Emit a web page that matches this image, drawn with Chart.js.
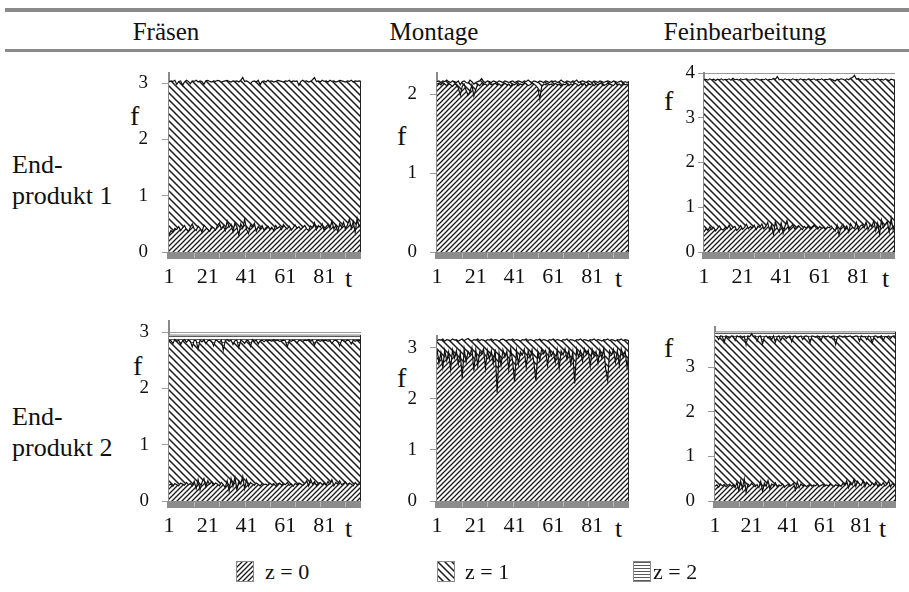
<!DOCTYPE html>
<html>
<head>
<meta charset="utf-8">
<script src="https://cdn.jsdelivr.net/npm/chart.js@4.4.1/dist/chart.umd.min.js"></script>
<style>
  html, body { margin: 0; padding: 0; background: #fff; }
  body { position: relative; width: 909px; height: 592px; overflow: hidden; font-family: "Liberation Serif", "Times New Roman", serif; color: #111; }
  .txt { position: absolute; white-space: nowrap; line-height: 1; }
  .rule { position: absolute; left: 5px; right: 0; background: #8a8a8a; }
  .panel { position: absolute; }
  .swatch { position: absolute; border: 1px solid #8a8a8a; }
</style>
</head>
<body>
<div class="rule" style="top:8px;height:4px"></div>
<div class="rule" style="top:49px;height:3px"></div>

<div class="txt" style="left:166px;top:19px;font-size:25px;transform:translateX(-50%)">Fräsen</div>
<div class="txt" style="left:434px;top:19px;font-size:25px;transform:translateX(-50%)">Montage</div>
<div class="txt" style="left:745px;top:19px;font-size:25px;transform:translateX(-50%)">Feinbearbeitung</div>

<div class="txt" style="left:12px;top:152px;font-size:26px">End-</div>
<div class="txt" style="left:12px;top:183px;font-size:26px">produkt 1</div>
<div class="txt" style="left:12px;top:404px;font-size:26px">End-</div>
<div class="txt" style="left:12px;top:435px;font-size:26px">produkt 2</div>

<div class="txt" style="left:130px;top:102px;font-size:28px">f</div>
<div class="txt" style="left:397px;top:122px;font-size:28px">f</div>
<div class="txt" style="left:664px;top:87px;font-size:28px">f</div>
<div class="txt" style="left:133px;top:352px;font-size:28px">f</div>
<div class="txt" style="left:397px;top:364px;font-size:28px">f</div>
<div class="txt" style="left:664px;top:334px;font-size:28px">f</div>

<div class="txt" style="left:345px;top:266px;font-size:26px">t</div>
<div class="txt" style="left:615px;top:266px;font-size:26px">t</div>
<div class="txt" style="left:882px;top:266px;font-size:26px">t</div>
<div class="txt" style="left:345px;top:516px;font-size:26px">t</div>
<div class="txt" style="left:615px;top:516px;font-size:26px">t</div>
<div class="txt" style="left:879px;top:516px;font-size:26px">t</div>

<canvas id="sw0" class="swatch" width="16" height="19" style="left:236px;top:561px"></canvas>
<canvas id="sw1" class="swatch" width="16" height="19" style="left:437px;top:561px"></canvas>
<canvas id="sw2" class="swatch" width="16" height="19" style="left:633px;top:561px"></canvas>
<div class="txt" style="left:265px;top:561px;font-size:22px">z = 0</div>
<div class="txt" style="left:465px;top:561px;font-size:22px">z = 1</div>
<div class="txt" style="left:653px;top:561px;font-size:22px">z = 2</div>

<script>
// Zeitachse t = 1..100
const tLabels = Array.from({ length: 100 }, (_, i) => i + 1);
const tTicks = [1, 21, 41, 61, 81];
const yTicks2 = [0, 1, 2];
const yTicks3 = [0, 1, 2, 3];
const yTicks4 = [0, 1, 2, 3, 4];
const z2T = [1, 100];

// Fräsen, Endprodukt 1 (Obergrenzen der Flächen)
const fraesen1_z0 = [
  0.30,0.38,0.35,0.42,0.40,0.45,0.38,0.43,0.47,0.40,
  0.36,0.44,0.50,0.41,0.38,0.46,0.42,0.35,0.48,0.44,
  0.40,0.37,0.45,0.43,0.39,0.47,0.52,0.41,0.46,0.38,
  0.55,0.44,0.49,0.36,0.52,0.45,0.30,0.50,0.42,0.58,
  0.40,0.33,0.48,0.44,0.51,0.37,0.45,0.41,0.47,0.39,
  0.43,0.46,0.40,0.44,0.38,0.47,0.42,0.45,0.40,0.49,
  0.44,0.41,0.46,0.39,0.43,0.48,0.42,0.45,0.40,0.44,
  0.47,0.41,0.38,0.46,0.43,0.52,0.40,0.47,0.44,0.50,
  0.38,0.45,0.49,0.42,0.55,0.41,0.47,0.36,0.50,0.44,
  0.53,0.40,0.48,0.58,0.42,0.54,0.35,0.60,0.45,0.52];
const fraesen1_z1 = [
  3.02,3.04,3.03,3.05,2.98,3.03,3.04,2.96,3.02,3.05,
  3.03,2.99,3.04,3.03,3.05,3.02,3.04,3.03,2.98,3.04,
  3.05,3.03,3.02,3.04,3.03,3.05,3.04,3.02,3.03,3.04,
  3.05,3.03,3.02,3.04,3.03,3.04,3.02,3.05,3.10,3.03,
  3.04,3.02,2.99,3.03,3.04,3.02,3.05,2.97,3.03,3.04,
  3.02,3.05,3.03,3.04,3.02,3.03,3.05,3.04,3.03,3.02,
  3.04,3.03,3.05,3.02,3.04,3.03,3.04,2.96,3.03,3.05,
  3.03,3.04,3.02,3.03,3.06,3.10,3.03,3.04,3.02,3.05,
  3.03,3.04,3.02,3.05,3.03,3.04,3.02,3.03,3.05,3.04,
  3.03,3.02,3.04,3.03,3.05,3.02,3.04,3.03,3.04,3.03];

// Montage, Endprodukt 1
const montage1_z0 = [
  2.13,2.14,2.12,2.15,2.13,2.11,2.14,2.12,2.10,2.13,
  2.12,2.08,1.99,2.10,2.13,2.05,1.99,2.03,2.12,1.98,
  2.06,2.13,2.11,2.14,2.12,2.13,2.11,2.14,2.12,2.13,
  2.14,2.12,2.13,2.11,2.13,2.14,2.12,2.13,2.10,2.13,
  2.12,2.14,2.11,2.13,2.12,2.14,2.13,2.11,2.12,2.14,
  2.13,2.11,2.08,1.94,2.10,2.13,2.12,2.14,2.12,2.13,
  2.11,2.14,2.12,2.13,2.10,2.13,2.12,2.14,2.11,2.13,
  2.12,2.14,2.13,2.11,2.13,2.12,2.14,2.10,2.13,2.12,
  2.14,2.11,2.13,2.12,2.14,2.13,2.11,2.12,2.14,2.13,
  2.12,2.11,2.14,2.12,2.13,2.11,2.14,2.12,2.13,2.12];
const montage1_z1 = [
  2.16,2.17,2.15,2.17,2.16,2.18,2.16,2.15,2.17,2.16,
  2.15,2.17,2.12,2.16,2.17,2.15,2.14,2.18,2.16,2.13,
  2.15,2.16,2.17,2.20,2.16,2.15,2.17,2.16,2.15,2.17,
  2.16,2.15,2.17,2.16,2.15,2.17,2.16,2.15,2.16,2.17,
  2.15,2.16,2.17,2.16,2.15,2.17,2.16,2.18,2.16,2.15,
  2.17,2.16,2.15,2.17,2.16,2.15,2.17,2.16,2.15,2.17,
  2.16,2.17,2.15,2.16,2.18,2.16,2.15,2.17,2.16,2.15,
  2.17,2.16,2.18,2.15,2.16,2.17,2.16,2.15,2.17,2.16,
  2.15,2.17,2.16,2.15,2.17,2.16,2.15,2.16,2.17,2.16,
  2.15,2.17,2.16,2.15,2.16,2.17,2.15,2.16,2.15,2.16];

// Feinbearbeitung, Endprodukt 1
const fein1_z0 = [
  0.45,0.52,0.48,0.56,0.50,0.55,0.47,0.53,0.58,0.51,
  0.49,0.55,0.52,0.60,0.50,0.54,0.57,0.48,0.53,0.59,
  0.51,0.55,0.62,0.52,0.57,0.54,0.60,0.50,0.58,0.55,
  0.63,0.52,0.57,0.66,0.48,0.60,0.40,0.68,0.53,0.45,
  0.65,0.42,0.58,0.70,0.50,0.56,0.61,0.52,0.55,0.59,
  0.54,0.50,0.57,0.53,0.58,0.52,0.56,0.60,0.55,0.51,
  0.57,0.53,0.55,0.50,0.56,0.54,0.58,0.52,0.47,0.60,
  0.38,0.56,0.62,0.50,0.58,0.45,0.63,0.55,0.52,0.66,
  0.49,0.58,0.61,0.54,0.67,0.50,0.60,0.56,0.70,0.48,
  0.64,0.40,0.72,0.55,0.62,0.68,0.45,0.75,0.50,0.62];
const fein1_z1 = [
  3.85,3.86,3.84,3.87,3.85,3.86,3.83,3.86,3.85,3.87,
  3.84,3.86,3.85,3.87,3.84,3.88,3.85,3.86,3.84,3.87,
  3.85,3.86,3.87,3.85,3.84,3.86,3.85,3.87,3.86,3.84,
  3.86,3.85,3.87,3.84,3.86,3.85,3.88,3.86,3.92,3.85,
  3.86,3.84,3.87,3.85,3.86,3.84,3.87,3.85,3.86,3.84,
  3.87,3.85,3.86,3.84,3.87,3.86,3.85,3.87,3.84,3.86,
  3.85,3.87,3.84,3.86,3.85,3.87,3.86,3.84,3.82,3.86,
  3.85,3.87,3.86,3.84,3.87,3.85,3.88,3.90,3.95,3.86,
  3.88,3.85,3.87,3.84,3.86,3.85,3.87,3.84,3.86,3.85,
  3.87,3.85,3.86,3.84,3.87,3.85,3.83,3.86,3.85,3.84];

// Fräsen, Endprodukt 2
const fraesen2_z0 = [
  0.28,0.30,0.26,0.31,0.29,0.27,0.32,0.30,0.28,0.33,
  0.29,0.31,0.27,0.35,0.22,0.38,0.20,0.33,0.40,0.25,
  0.36,0.30,0.34,0.28,0.32,0.30,0.27,0.33,0.29,0.24,
  0.36,0.18,0.40,0.26,0.42,0.20,0.35,0.30,0.44,0.22,
  0.38,0.26,0.33,0.30,0.28,0.32,0.30,0.27,0.31,0.29,
  0.30,0.28,0.32,0.29,0.31,0.27,0.30,0.32,0.28,0.31,
  0.29,0.33,0.28,0.30,0.26,0.31,0.29,0.32,0.30,0.28,
  0.31,0.36,0.27,0.39,0.30,0.34,0.28,0.31,0.33,0.29,
  0.32,0.28,0.35,0.30,0.38,0.27,0.33,0.30,0.36,0.29,
  0.31,0.34,0.28,0.32,0.30,0.27,0.33,0.29,0.31,0.30];
const fraesen2_z1 = [
  2.86,2.85,2.80,2.87,2.84,2.86,2.78,2.85,2.87,2.82,
  2.86,2.84,2.74,2.86,2.85,2.70,2.86,2.83,2.87,2.80,
  2.85,2.86,2.84,2.76,2.86,2.85,2.82,2.86,2.68,2.85,
  2.87,2.84,2.86,2.78,2.85,2.86,2.73,2.86,2.84,2.80,
  2.86,2.85,2.75,2.87,2.84,2.86,2.79,2.85,2.86,2.83,
  2.86,2.85,2.86,2.84,2.87,2.85,2.86,2.84,2.85,2.86,
  2.85,2.74,2.86,2.84,2.86,2.85,2.81,2.86,2.85,2.84,
  2.86,2.85,2.87,2.84,2.86,2.77,2.85,2.86,2.84,2.86,
  2.85,2.86,2.84,2.86,2.80,2.85,2.86,2.84,2.76,2.86,
  2.85,2.84,2.86,2.85,2.79,2.86,2.84,2.86,2.85,2.86];
const fraesen2_z2 = [2.95, 2.95];

// Montage, Endprodukt 2
const montage2_z0 = [
  2.98,2.70,2.90,2.62,2.95,2.75,2.92,2.58,2.96,2.80,
  2.94,2.68,2.90,2.40,2.97,2.72,2.93,2.85,3.00,2.55,
  2.96,2.65,2.92,2.88,2.98,2.60,2.95,2.78,2.94,2.70,
  2.97,2.12,2.90,2.66,2.96,2.82,2.93,2.58,2.98,2.74,
  2.33,2.95,2.68,2.92,2.86,2.97,2.62,2.94,2.80,2.96,
  2.70,2.35,2.93,2.76,2.98,2.88,2.95,2.66,2.97,2.84,
  2.92,2.72,2.96,2.60,2.94,2.86,2.98,2.78,2.95,2.68,
  2.93,2.30,2.97,2.82,2.94,2.74,2.98,2.88,2.95,2.64,
  2.97,2.84,2.93,2.70,2.96,2.80,2.98,2.58,2.36,2.94,
  2.86,2.97,2.72,2.95,2.66,2.98,2.82,2.94,2.62,2.90];
const montage2_z1 = [
  3.14,3.16,3.15,3.17,3.13,3.16,3.15,3.14,3.17,3.15,
  3.16,3.13,3.15,3.17,3.14,3.16,3.18,3.15,3.13,3.16,
  3.15,3.17,3.14,3.16,3.15,3.13,3.16,3.15,3.17,3.14,
  3.16,3.15,3.13,3.16,3.17,3.15,3.14,3.16,3.15,3.17,
  3.14,3.16,3.15,3.13,3.16,3.15,3.17,3.14,3.16,3.15,
  3.13,3.16,3.15,3.17,3.14,3.16,3.15,3.13,3.16,3.15,
  3.17,3.14,3.16,3.15,3.13,3.16,3.15,3.17,3.14,3.16,
  3.15,3.13,3.16,3.15,3.17,3.14,3.16,3.15,3.13,3.16,
  3.15,3.17,3.14,3.16,3.15,3.13,3.16,3.15,3.17,3.14,
  3.16,3.15,3.13,3.16,3.15,3.17,3.14,3.16,3.15,3.14];

// Feinbearbeitung, Endprodukt 2
const fein2_z0 = [
  0.33,0.36,0.31,0.38,0.34,0.37,0.32,0.35,0.38,0.33,
  0.36,0.30,0.42,0.24,0.45,0.28,0.50,0.20,0.38,0.34,
  0.40,0.35,0.32,0.37,0.30,0.44,0.22,0.40,0.33,0.46,
  0.27,0.38,0.35,0.41,0.32,0.36,0.34,0.38,0.31,0.35,
  0.37,0.33,0.36,0.40,0.25,0.43,0.30,0.38,0.34,0.36,
  0.32,0.35,0.37,0.33,0.36,0.34,0.38,0.32,0.35,0.37,
  0.33,0.36,0.34,0.38,0.35,0.32,0.37,0.34,0.36,0.33,
  0.40,0.35,0.45,0.30,0.42,0.36,0.48,0.33,0.44,0.38,
  0.35,0.46,0.32,0.42,0.37,0.34,0.40,0.36,0.43,0.33,
  0.38,0.35,0.41,0.34,0.37,0.45,0.32,0.39,0.36,0.38];
const fein2_z1 = [
  3.70,3.68,3.62,3.70,3.69,3.55,3.70,3.68,3.65,3.70,
  3.69,3.60,3.70,3.68,3.70,3.66,3.69,3.50,3.70,3.68,
  3.75,3.69,3.70,3.58,3.69,3.70,3.52,3.68,3.70,3.65,
  3.69,3.62,3.70,3.56,3.68,3.70,3.60,3.69,3.70,3.64,
  3.68,3.70,3.57,3.69,3.70,3.66,3.68,3.70,3.62,3.69,
  3.70,3.68,3.55,3.70,3.69,3.67,3.70,3.68,3.60,3.70,
  3.69,3.68,3.70,3.66,3.69,3.70,3.51,3.68,3.70,3.69,
  3.67,3.70,3.68,3.69,3.70,3.66,3.68,3.70,3.69,3.58,
  3.70,3.68,3.69,3.62,3.70,3.68,3.54,3.69,3.70,3.66,
  3.68,3.70,3.59,3.69,3.68,3.70,3.64,3.69,3.70,3.68];
const fein2_z2 = [3.79, 3.79];

// --- Schraffuren ---
function makeHatch(kind) {
  const size = kind === 'fwd' ? 5 : kind === 'back' ? 7 : 3;
  const tile = document.createElement('canvas');
  tile.width = size; tile.height = size;
  const g = tile.getContext('2d');
  g.fillStyle = '#fff';
  g.fillRect(0, 0, size, size);
  if (kind === 'horiz') {
    g.fillStyle = '#5a5a5a';
    g.fillRect(0, 0, size, 1);
  } else {
    g.strokeStyle = '#1a1a1a';
    g.lineWidth = kind === 'fwd' ? 1.3 : 1.5;
    g.beginPath();
    if (kind === 'fwd') {
      g.moveTo(0, size); g.lineTo(size, 0);
      g.moveTo(-1, 1); g.lineTo(1, -1);
      g.moveTo(size - 1, size + 1); g.lineTo(size + 1, size - 1);
    } else {
      g.moveTo(0, 0); g.lineTo(size, size);
      g.moveTo(size - 1, -1); g.lineTo(size + 1, 1);
      g.moveTo(-1, size - 1); g.lineTo(1, size + 1);
    }
    g.stroke();
  }
  return g.createPattern(tile, 'repeat');
}
const hatch = { fwd: makeHatch('fwd'), back: makeHatch('back'), horiz: makeHatch('horiz') };

// Legendenfelder
['fwd', 'back', 'horiz'].forEach((k, i) => {
  const c = document.getElementById('sw' + i).getContext('2d');
  c.fillStyle = hatch[k];
  c.fillRect(0, 0, 16, 19);
});

// grauer Balken unter der t-Achse + rechter Rand der Fläche
const axisBar = {
  id: 'axisBar',
  afterDraw(chart) {
    const { ctx, chartArea: a, scales: { x } } = chart;
    ctx.save();
    const last = chart.data.datasets.length - 1;
    const pts = chart.getDatasetMeta(last).data;
    const topY = pts[pts.length - 1].y;
    ctx.strokeStyle = '#222';
    ctx.lineWidth = 1;
    ctx.beginPath();
    ctx.moveTo(a.right - 0.5, topY);
    ctx.lineTo(a.right - 0.5, a.bottom);
    ctx.stroke();
    ctx.fillStyle = '#8c8c8c';
    ctx.fillRect(a.left - 2, a.bottom, a.right - a.left + 2, 7);
    ctx.strokeStyle = '#b8b8b8';
    for (let t = 14; t < 100; t += 13) {
      const px = Math.round(x.getPixelForValue(t)) + 0.5;
      ctx.beginPath();
      ctx.moveTo(px, a.bottom + 1);
      ctx.lineTo(px, a.bottom + 6);
      ctx.stroke();
    }
    ctx.restore();
  }
};

const flat = arr => z2T.map((t, i) => ({ x: t, y: arr[i] }));

const panels = [
  { left: 169, right: 361, top: 73, bottom: 252, yMax: 3.18, yTicks: yTicks3, pad: 14, tick: 7,
    series: [[fraesen1_z0, 'fwd'], [fraesen1_z1, 'back']] },
  { left: 437, right: 629, top: 73, bottom: 252, yMax: 2.27, yTicks: yTicks2, pad: 13, tick: 7,
    series: [[montage1_z0, 'fwd'], [montage1_z1, 'back']] },
  { left: 704, right: 895, top: 73, bottom: 252, yMax: 4.0, yTicks: yTicks4, pad: 3, tick: 6,
    series: [[fein1_z0, 'fwd'], [fein1_z1, 'back']] },
  { left: 169, right: 361, top: 321, bottom: 501, yMax: 3.2, yTicks: yTicks3, pad: 13, tick: 7,
    series: [[fraesen2_z0, 'fwd'], [fraesen2_z1, 'back'], [flat(fraesen2_z2), 'horiz']] },
  { left: 437, right: 629, top: 336, bottom: 501, yMax: 3.23, yTicks: yTicks3, pad: 13, tick: 7,
    series: [[montage2_z0, 'fwd'], [montage2_z1, 'back']] },
  { left: 715, right: 896, top: 327, bottom: 501, yMax: 3.9, yTicks: yTicks3, pad: 13, tick: 7,
    series: [[fein2_z0, 'fwd'], [fein2_z1, 'back'], [flat(fein2_z2), 'horiz']] }
];

const PAD_L = 60, PAD_T = 12, PAD_R = 12, AX_H = 40;

panels.forEach(p => {
  const cv = document.createElement('canvas');
  cv.className = 'panel';
  cv.width = p.right - p.left + PAD_L + PAD_R;
  cv.height = p.bottom - p.top + PAD_T + AX_H;
  cv.style.left = (p.left - PAD_L) + 'px';
  cv.style.top = (p.top - PAD_T) + 'px';
  document.body.appendChild(cv);

  new Chart(cv.getContext('2d'), {
    type: 'line',
    data: {
      labels: tLabels,
      datasets: p.series.map(([data, kind], i) => ({
        data: data,
        fill: i === 0 ? 'origin' : '-1',
        backgroundColor: hatch[kind],
        borderColor: kind === 'horiz' ? '#777' : '#111',
        borderWidth: kind === 'horiz' ? 1 : 1.2,
        pointRadius: 0,
        tension: 0
      }))
    },
    options: {
      responsive: false,
      animation: false,
      events: [],
      layout: { padding: { top: PAD_T, right: PAD_R, left: 0, bottom: 0 } },
      plugins: { legend: { display: false }, tooltip: { enabled: false } },
      scales: {
        x: {
          type: 'linear', min: 1, max: 100,
          afterBuildTicks: s => { s.ticks = tTicks.map(v => ({ value: v })); },
          afterFit: s => { s.height = AX_H; s.paddingLeft = 0; s.paddingRight = 0; },
          grid: { display: false, drawTicks: false },
          border: { display: false },
          ticks: { padding: 12, maxRotation: 0, autoSkip: false, color: '#111',
                   font: { family: 'Liberation Serif', size: 22 } }
        },
        y: {
          min: 0, max: p.yMax,
          afterBuildTicks: s => { s.ticks = p.yTicks.map(v => ({ value: v })); },
          afterFit: s => { s.width = PAD_L; s.paddingTop = 0; s.paddingBottom = 0; },
          grid: { color: '#9a9a9a', lineWidth: 1, tickLength: p.tick },
          border: { color: '#8a8a8a', width: 2 },
          ticks: { padding: p.pad, color: '#111', font: { family: 'Liberation Serif', size: 19 } }
        }
      }
    },
    plugins: [axisBar]
  });
});
</script>
</body>
</html>
